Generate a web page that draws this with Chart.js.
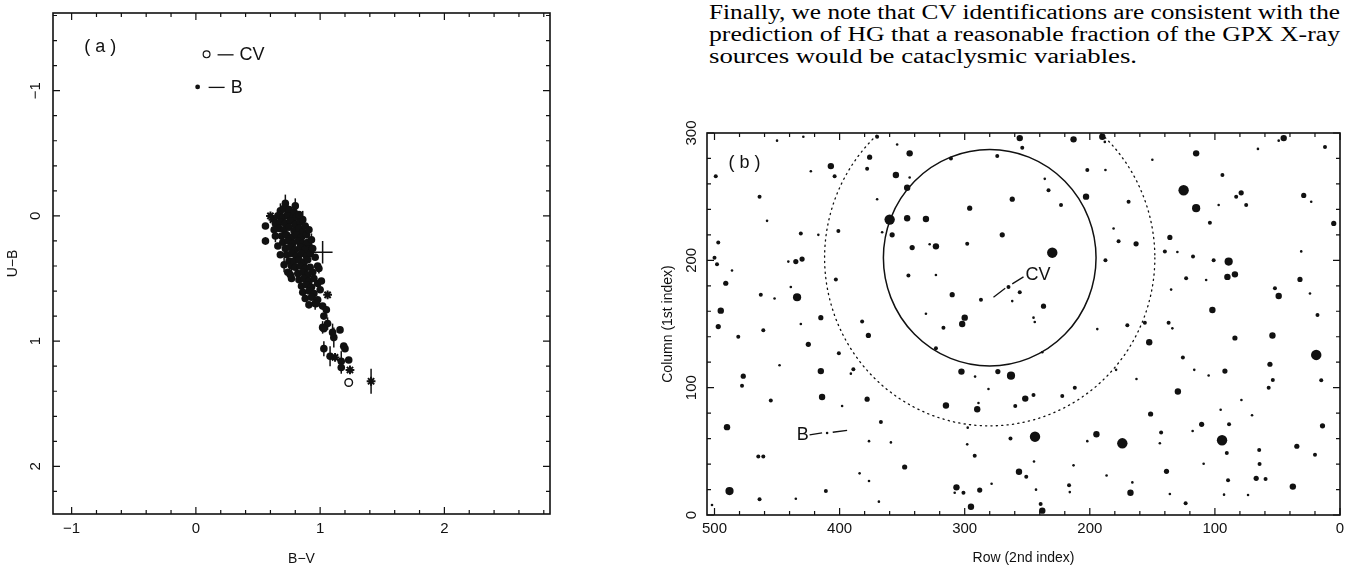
<!DOCTYPE html>
<html><head><meta charset="utf-8">
<script src="https://cdn.jsdelivr.net/npm/chart.js@4.4.1/dist/chart.umd.min.js"></script>
<style>
html,body{margin:0;padding:0;background:#fff;width:1353px;height:567px;overflow:hidden;position:relative;}
canvas{position:absolute;top:0;}
#ca{left:0;width:600px;height:567px;}
#cb{left:640px;width:713px;height:567px;}
.para{position:absolute;left:709px;font-family:"Liberation Serif","Times New Roman",serif;font-size:20px;color:#000;line-height:22px;white-space:nowrap;display:inline-block;transform-origin:0 0;}
</style></head><body>
<div class="para" data-w="631" style="top:1px">Finally, we note that CV identifications are consistent with the</div>
<div class="para" data-w="631" style="top:23px">prediction of HG that a reasonable fraction of the GPX X-ray</div>
<div class="para" data-w="428" style="top:45px">sources would be cataclysmic variables.</div>
<canvas id="ca" width="600" height="567"></canvas>
<canvas id="cb" width="713" height="567"></canvas>
<script>
// fit each text line to the width it takes in the scanned page
document.querySelectorAll('.para').forEach(el => {
  const w = el.getBoundingClientRect().width;
  el.style.transform = 'scaleX(' + (parseFloat(el.dataset.w) / w) + ')';
});

// ---------------- Panel (a): U-B vs B-V ----------------
const A_X_RANGE = [-1.15, 2.85];
const A_Y_RANGE = [-1.62, 2.38];
const A_X_TICKS = [-1, 0, 1, 2];
const A_Y_TICKS = [-1, 0, 1, 2];
// filled circles (B-V, U-B, U-B error)
const bvDots = [0.72,0.68,0.74,0.56,0.56,0.91,0.99,0.75,0.77,
 0.71,0.75,0.79, 0.66,0.70,0.74,0.78,0.81, 0.64,0.68,0.72,0.76,0.80,0.84,
 0.67,0.71,0.75,0.79,0.83,0.86, 0.69,0.73,0.77,0.81,0.85,0.89,
 0.70,0.74,0.78,0.82,0.86,0.90, 0.72,0.76,0.80,0.84,0.88,
 0.73,0.77,0.81,0.85,0.89,0.92, 0.79,0.83,0.87,0.90, 0.80,0.84,0.88,0.92,
 0.82,0.86,0.90,0.94, 0.83,0.87,0.91,0.95, 0.85,0.89,0.93,0.98,
 0.86,0.91,0.95,1.00, 0.88,0.93,0.98, 0.91,0.96,1.02,
 0.97,1.05,1.03,1.06,1.02,1.03,1.10,1.16,1.11,1.03,1.08,1.19,1.20,1.17,1.17,1.23,
 0.63,0.64,0.66,0.68,0.71,0.74,0.77,0.86,0.88,0.91,0.93,0.94,0.96,0.98,1.01,0.80,0.83,0.76];
const ubDots = [-0.10,-0.04,-0.02,0.08,0.20,0.24,0.42,0.36,0.40,
 -0.06,-0.05,-0.03, 0.00,0.01,0.00,0.02,0.01, 0.06,0.05,0.06,0.04,0.07,0.05,
 0.10,0.11,0.09,0.12,0.10,0.13, 0.16,0.15,0.17,0.15,0.17,0.15,
 0.21,0.20,0.22,0.20,0.22,0.21, 0.26,0.25,0.27,0.25,0.27,
 0.31,0.30,0.32,0.30,0.32,0.30, 0.36,0.35,0.37,0.35, 0.41,0.40,0.42,0.41,
 0.46,0.45,0.47,0.45, 0.51,0.50,0.52,0.50, 0.56,0.55,0.57,0.54,
 0.61,0.60,0.62,0.59, 0.66,0.65,0.67, 0.71,0.70,0.72,
 0.70,0.75,0.80,0.86,0.89,0.90,0.93,0.91,0.97,1.06,1.12,1.04,1.06,1.16,1.21,1.15,
 0.11,0.16,0.24,0.31,0.39,0.45,0.50,0.03,0.08,0.11,0.19,0.26,0.33,0.40,0.52,-0.08,-0.01,0.47];
const ubDotsErr = [0.07,0.06,0.09,0,0.03,0,0.04,0,0.06,
 0,0,0, 0,0,0.05,0,0, 0,0,0,0,0.06,0, 0,0,0,0,0,0.05, 0,0,0,0,0,0,
 0,0,0,0.06,0,0, 0,0,0,0,0.05, 0,0,0,0,0,0, 0,0,0.05,0, 0,0,0,0,
 0,0,0,0, 0,0.06,0,0, 0,0,0.05,0, 0,0,0,0, 0,0,0, 0,0.05,0,
 0,0,0,0.05,0.05,0,0.07,0,0.08,0.06,0.08,0,0,0.08,0.05,0,
 0,0.05,0,0,0.06,0,0,0.07,0,0,0.05,0,0,0,0,0.06,0,0];
// asterisk-shaped points
const bvAst = [0.62,0.60,1.06,1.12,1.24,1.41];
const ubAst = [0.03,0.00,0.63,1.13,1.23,1.32];
const ubAstErr = [0,0,0,0,0,0.10];
// point with large errors only
const bvBig = [1.02];
const ubBig = [0.29];
const bvBigErr = [0.08];
const ubBigErr = [0.09];
// the CV
const bvCV = [1.23];
const ubCV = [1.33];
// key symbols
const keyLabels = ['CV', 'B'];
const bvKey = [0.086, 0.014];
const ubKey = [-1.29, -1.03];

// ---------------- Panel (b): field map ----------------
const B_X_RANGE = [0, 506];
const B_Y_RANGE = [0, 300];
const B_X_TICKS = [500, 400, 300, 200, 100, 0];
const B_Y_TICKS = [0, 100, 200, 300];
const rowStar = [450,429,499,464,407,404,423,370,376,378,354,344,355,344,346,370,311,274,458,360,346,331,296,366,358,401,417,431,497,342,328,323,298,500,498,441,435,430,486,491,403,345,323,463,452,439,434,310,287,495,497,461,481,415,431,382,377,425,331,300,302,317,323,
 256,254,213,190,188,115,150,65.6,45,49,12,202,187.5,236,233,262,203,223,125,115,94,79,83,75,97,104,29,23,5,169,181,270,177,163,230,187.5,136,140,130,117.5,101,89,90,84,123,107,31,32,265,256,262,237,245,244,135,52,49,24,102,18,194,170,156,137,134,152.5,84,54,
 400.6,448,477,478,415,391,389,302.6,291.7,273.5,281,455,414,378,398,315,289,290,490,367,297.6,410,376.5,359,298,465,461,292,348,384,376.5,411,488,306.6,308,301,288,278.5,502,464,435,368.6,295,
 19,125.6,116.5,105,92,56,53.7,57,15,238,179,162.7,263,259.6,251.6,245,222,212,129.6,78.8,95.4,70.3,151.4,110.6,88.7,14,117.8,143,144,194.7,202,174,263.4,243.8,94.3,90.5,64.6,34.5,20,244.6,213,109,64.3,138.7,256.6,250.8,186.6,166,89.5,67,59.5,37.7,216.6,216,243,167.5,136,92.7,73.5,123.4,239.3,238];
const colStar = [294,297,266,250,274,266,270,297,281,272,291,284,267,265,257,248,280,282,231,232,233,232.5,241,222,220,223,220,221,214,210,212.6,211,213,202,197,199,199,201,192,182,185,188,188.5,173,170,179,171,173,169,160.5,148,145,140,155,150,152,141,134,158,155,150,147,131,
 296,288.5,295,297,293,284,279,287.5,296,294,289,271,271,264,255,248,250,243.5,255,241,267,253,250,243.5,243.5,229.6,251,246,229,246,225,220,215,213,206,200,218,207,206.6,203,200,199,187,189,186,184.6,207,185,179,175,168,164,155,151.6,177,178,172,174,161,157,146,149,151,151,146.6,135.7,139,141,
 127,117.6,109,101.6,113,111,114.5,112.6,108.7,112.6,99,90,92.7,91,85.6,86,88,83,69,73,68.6,64.4,58,57,55.5,46,46,46.6,37.7,32.7,26.7,18.8,18.8,21.7,17.5,17.5,19.6,24.6,7.9,12.3,12.8,10.5,6.5,
 125.7,123.6,114,109.5,113,118.4,106,100,105.8,127.8,114,106.8,109.4,85.6,91.4,94.3,93.5,100,97,90.3,82.7,78.3,79.3,71.2,71.2,70,66,64.7,56.3,63.4,58,56.3,60,61.5,58.7,48.7,51,54,47.4,42,39,40.3,40,34.3,34,30,31,25.6,27.2,28.8,28.3,22.3,23.3,18,19.9,17.5,16.5,16,15.7,9.2,8.6,3.4];
const brightClass = [1,1,2,2,4,2,1,2,3,2,1,4,4,1,4,1,2,2,1,6,4,4,3,1,3,2,1,2,2,3,1,4,2,2,2,1,3,3,1,3,2,2,1,2,1,1,5,3,2,4,3,2,2,3,1,2,3,3,1,4,4,2,2,
 4,2,4,4,1,4,1,1,4,1,2,2,1,1,2,3,4,2,6,5,2,3,2,2,1,2,3,1,3,2,1,3,2,3,6,2,3,2,1,2,2,5,4,4,2,1,1,3,2,2,1,3,1,1,1,2,4,1,4,2,1,2,2,2,1,4,3,4,
 2,1,3,2,4,1,2,4,1,3,1,2,4,3,1,4,1,4,4,2,1,1,1,1,1,2,2,2,3,1,1,2,5,4,1,2,3,1,1,2,1,1,4,
 6,2,1,1,3,3,2,2,2,1,1,1,5,2,4,2,2,2,4,1,1,1,3,3,2,3,1,2,1,4,1,6,2,6,6,2,2,3,2,1,1,1,2,3,4,2,1,1,2,3,2,4,2,1,1,4,1,1,1,2,2,4];
const fieldCentre = {row: 280, col: 202};
const innerRadius = 85;
const outerRadius = 132;
const cvLabel = {text: 'CV', row: 251.5, col: 188.5, segs: [[277,171,267.6,178],[262,181.5,253,187]]};
const bLabel = {text: 'B', row: 429.5, col: 63, segs: [[424,63,414,64.5],[405.5,65,394,66.5]]};

// ---------------- helpers ----------------
const INK = '#111';
const SANS = '"Liberation Sans", Arial, sans-serif';
function pts(xs, ys) { return xs.map((v, i) => ({x: v, y: ys[i]})); }

function drawFrame(chart, o) {
  const {ctx, chartArea: a, scales: {x, y}} = chart;
  ctx.save();
  ctx.strokeStyle = INK;
  ctx.lineWidth = 1.6;
  ctx.strokeRect(a.left, a.top, a.right - a.left, a.bottom - a.top);
  ctx.lineWidth = 1.2;
  ctx.beginPath();
  const isMaj = (v, s) => Math.abs(v / s - Math.round(v / s)) < 1e-6;
  for (let k = Math.ceil(x.min / o.xMinor - 1e-9); k * o.xMinor <= x.max + 1e-9; k++) {
    const v = k * o.xMinor, px = x.getPixelForValue(v);
    const L = isMaj(v, o.xMajor) ? o.majLen : o.minLen;
    ctx.moveTo(px, a.bottom); ctx.lineTo(px, a.bottom - L);
    ctx.moveTo(px, a.top); ctx.lineTo(px, a.top + L);
  }
  for (let k = Math.ceil(y.min / o.yMinor - 1e-9); k * o.yMinor <= y.max + 1e-9; k++) {
    const v = k * o.yMinor, py = y.getPixelForValue(v);
    const L = isMaj(v, o.yMajor) ? o.majLen : o.minLen;
    ctx.moveTo(a.left, py); ctx.lineTo(a.left + L, py);
    ctx.moveTo(a.right, py); ctx.lineTo(a.right - L, py);
  }
  ctx.stroke();
  ctx.fillStyle = INK;
  ctx.font = o.tickFont;
  ctx.textAlign = 'center'; ctx.textBaseline = 'middle';
  o.xTicks.forEach(v => ctx.fillText(String(v).replace('-', '\u2212'), x.getPixelForValue(v), a.bottom + o.xLabelGap));
  o.yTicks.forEach(v => {
    ctx.save();
    ctx.translate(a.left - o.yLabelGap, y.getPixelForValue(v));
    ctx.rotate(-Math.PI / 2);
    ctx.fillText(String(v).replace('-', '\u2212'), 0, 0);
    ctx.restore();
  });
  ctx.font = o.titleFont;
  ctx.fillText(o.xTitle, (a.left + a.right) / 2, a.bottom + o.xTitleGap);
  ctx.save();
  ctx.translate(a.left - o.yTitleGap, (a.top + a.bottom) / 2);
  ctx.rotate(-Math.PI / 2);
  ctx.fillText(o.yTitle, 0, 0);
  ctx.restore();
  ctx.restore();
}

function drawErrors(chart) {
  const {ctx, scales: {x, y}} = chart;
  ctx.save();
  ctx.strokeStyle = INK; ctx.lineWidth = 1.5;
  chart.data.datasets.forEach(ds => {
    if (!ds.errY && !ds.errX) return;
    ds.data.forEach((p, i) => {
      const ey = ds.errY ? ds.errY[i] : 0, ex = ds.errX ? ds.errX[i] : 0;
      ctx.beginPath();
      if (ey) { ctx.moveTo(x.getPixelForValue(p.x), y.getPixelForValue(p.y - ey)); ctx.lineTo(x.getPixelForValue(p.x), y.getPixelForValue(p.y + ey)); }
      if (ex) { ctx.moveTo(x.getPixelForValue(p.x - ex), y.getPixelForValue(p.y)); ctx.lineTo(x.getPixelForValue(p.x + ex), y.getPixelForValue(p.y)); }
      ctx.stroke();
    });
  });
  ctx.restore();
}

const baseOpts = {
  responsive: false, animation: false, events: [],
  plugins: {legend: {display: false}, tooltip: {enabled: false}},
};

// ---------------- chart (a) ----------------
new Chart(document.getElementById('ca'), {
  type: 'scatter',
  data: {datasets: [
    {label: 'stars', data: pts(bvDots, ubDots), errY: ubDotsErr, pointStyle: 'circle', pointRadius: 3.8,
     backgroundColor: INK, borderColor: INK, borderWidth: 0},
    {label: 'stars*', data: pts(bvAst, ubAst), errY: ubAstErr, pointStyle: 'star', pointRadius: 4.4,
     backgroundColor: INK, borderColor: INK, borderWidth: 2},
    {label: 'large error', data: pts(bvBig, ubBig), errY: ubBigErr, errX: bvBigErr, pointRadius: 0},
    {label: 'CV', data: pts(bvCV, ubCV), pointStyle: 'circle', pointRadius: 3.8,
     backgroundColor: '#fff', borderColor: INK, borderWidth: 1.4},
    {label: 'CV centre', data: pts(bvCV, ubCV), pointStyle: 'circle', pointRadius: 1.2,
     backgroundColor: INK, borderWidth: 0},
    {label: 'key CV', data: pts([bvKey[0]], [ubKey[0]]), pointStyle: 'circle', pointRadius: 3.4,
     backgroundColor: '#fff', borderColor: INK, borderWidth: 1.2},
    {label: 'key CV centre', data: pts([bvKey[0]], [ubKey[0]]), pointStyle: 'circle', pointRadius: 1.1,
     backgroundColor: INK, borderWidth: 0},
    {label: 'key B', data: pts([bvKey[1]], [ubKey[1]]), pointStyle: 'circle', pointRadius: 2.4,
     backgroundColor: INK, borderWidth: 0},
  ]},
  options: Object.assign({}, baseOpts, {
    layout: {padding: {left: 53, right: 50, top: 13, bottom: 53}},
    scales: {
      x: {type: 'linear', display: false, min: A_X_RANGE[0], max: A_X_RANGE[1]},
      y: {type: 'linear', display: false, reverse: true, min: A_Y_RANGE[0], max: A_Y_RANGE[1]},
    },
  }),
  plugins: [{
    id: 'frameA',
    beforeDatasetsDraw(chart) { drawErrors(chart); },
    afterDatasetsDraw(chart) {
      drawFrame(chart, {xMinor: 0.2, xMajor: 1, yMinor: 0.2, yMajor: 1, majLen: 7, minLen: 4,
        xTicks: A_X_TICKS, yTicks: A_Y_TICKS, tickFont: '15px ' + SANS, titleFont: '14px ' + SANS,
        xLabelGap: 15, yLabelGap: 17, xTitle: 'B\u2212V', yTitle: 'U\u2212B', xTitleGap: 45, yTitleGap: 40});
      const {ctx, scales: {x, y}} = chart;
      ctx.save();
      ctx.fillStyle = INK; ctx.strokeStyle = INK; ctx.lineWidth = 1.3;
      ctx.font = '18px ' + SANS; ctx.textBaseline = 'middle'; ctx.textAlign = 'left';
      keyLabels.forEach((t, i) => {
        const px = x.getPixelForValue(bvKey[i]), py = y.getPixelForValue(ubKey[i]);
        ctx.beginPath(); ctx.moveTo(px + 11, py + 0.5); ctx.lineTo(px + 27, py + 0.5); ctx.stroke();
        ctx.fillText(t, px + 33, py + 1);
      });
      ctx.font = '18px ' + SANS; ctx.textAlign = 'center';
      ctx.fillText('( a )', x.getPixelForValue(-0.77), y.getPixelForValue(-1.35));
      ctx.restore();
    }
  }]
});

// ---------------- chart (b) ----------------
const radiusOf = [0, 1.3, 2.0, 2.6, 3.2, 4.1, 5.2];
function ellipse(chart, r, dashed) {
  const {ctx, chartArea: a, scales: {x, y}} = chart;
  const cx = x.getPixelForValue(fieldCentre.row), cy = y.getPixelForValue(fieldCentre.col);
  const rx = Math.abs(x.getPixelForValue(fieldCentre.row + r) - cx);
  const ry = Math.abs(y.getPixelForValue(fieldCentre.col + r) - cy);
  ctx.save();
  ctx.beginPath(); ctx.rect(a.left, a.top, a.right - a.left, a.bottom - a.top); ctx.clip();
  ctx.strokeStyle = INK;
  if (dashed) { ctx.setLineDash([1.2, 4.2]); ctx.lineWidth = 1.3; ctx.lineCap = 'round'; }
  else { ctx.lineWidth = 1.5; }
  ctx.beginPath(); ctx.ellipse(cx, cy, rx, ry, 0, 0, Math.PI * 2); ctx.stroke();
  ctx.restore();
}
function pointer(chart, lab, fontPx) {
  const {ctx, scales: {x, y}} = chart;
  ctx.save();
  ctx.strokeStyle = INK; ctx.lineWidth = 1.3; ctx.fillStyle = INK;
  ctx.beginPath();
  lab.segs.forEach(s => { ctx.moveTo(x.getPixelForValue(s[0]), y.getPixelForValue(s[1])); ctx.lineTo(x.getPixelForValue(s[2]), y.getPixelForValue(s[3])); });
  ctx.stroke();
  ctx.font = fontPx + 'px ' + SANS; ctx.textBaseline = 'middle';
  ctx.textAlign = lab.text === 'B' ? 'center' : 'left';
  ctx.fillText(lab.text, x.getPixelForValue(lab.row), y.getPixelForValue(lab.col));
  ctx.restore();
}
new Chart(document.getElementById('cb'), {
  type: 'scatter',
  data: {datasets: [{
    label: 'field stars', data: pts(rowStar, colStar), pointStyle: 'circle',
    pointRadius: ctx => radiusOf[brightClass[ctx.dataIndex]],
    backgroundColor: INK, borderWidth: 0,
  }]},
  options: Object.assign({}, baseOpts, {
    layout: {padding: {left: 67, right: 13, top: 133, bottom: 52}},
    scales: {
      x: {type: 'linear', display: false, reverse: true, min: B_X_RANGE[0], max: B_X_RANGE[1]},
      y: {type: 'linear', display: false, min: B_Y_RANGE[0], max: B_Y_RANGE[1]},
    },
  }),
  plugins: [{
    id: 'frameB',
    afterDatasetsDraw(chart) {
      ellipse(chart, innerRadius, false);
      ellipse(chart, outerRadius, true);
      drawFrame(chart, {xMinor: 20, xMajor: 100, yMinor: 20, yMajor: 100, majLen: 7, minLen: 4,
        xTicks: B_X_TICKS, yTicks: B_Y_TICKS, tickFont: '15px ' + SANS, titleFont: '14px ' + SANS,
        xLabelGap: 14, yLabelGap: 15, xTitle: 'Row (2nd index)', yTitle: 'Column (1st index)', xTitleGap: 43, yTitleGap: 39});
      pointer(chart, cvLabel, 18);
      pointer(chart, bLabel, 18);
      const {ctx, scales: {x, y}} = chart;
      ctx.save(); ctx.fillStyle = INK; ctx.font = '18px ' + SANS; ctx.textAlign = 'center'; ctx.textBaseline = 'middle';
      ctx.fillText('( b )', x.getPixelForValue(476), y.getPixelForValue(276.5));
      ctx.restore();
    }
  }]
});
</script>
</body></html>
